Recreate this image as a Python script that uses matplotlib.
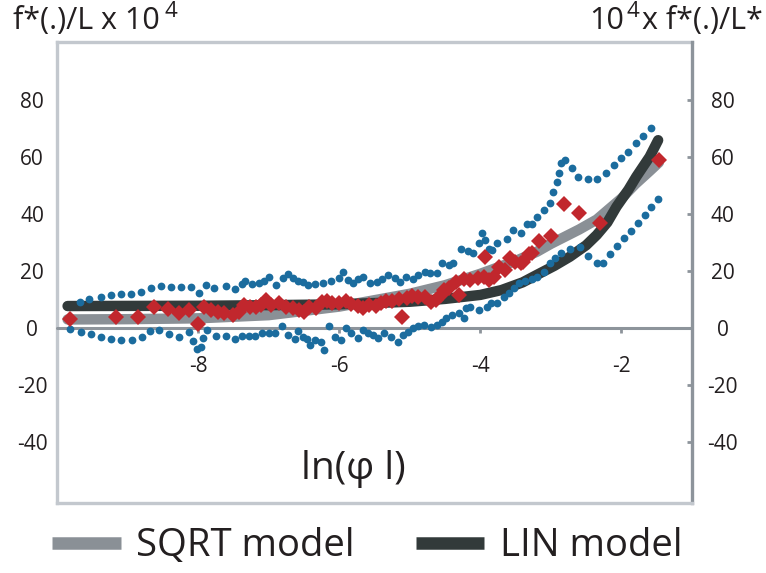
import matplotlib
matplotlib.use("Agg")
import matplotlib.pyplot as plt

plt.rcParams["font.family"] = ["Open Sans", "DejaVu Sans"]
plt.rcParams["axes.unicode_minus"] = False

# upper band (blue dots)
upper_x = [-9.68, -9.54, -9.38, -9.24, -9.09, -8.95, -8.81, -8.67, -8.53, -8.38, -8.24, -8.10,
           -7.99, -7.89, -7.77, -7.61, -7.48, -7.38, -7.33, -7.23, -7.14, -7.07, -7.00, -6.89,
           -6.80, -6.73, -6.66, -6.59, -6.52, -6.44, -6.34, -6.23, -6.11, -6.01, -5.94, -5.87,
           -5.80, -5.73, -5.66, -5.56, -5.47, -5.40, -5.31, -5.21, -5.14, -5.05, -4.96, -4.89,
           -4.79, -4.72, -4.61, -4.54, -4.44, -4.39, -4.28, -4.18, -4.11, -4.02, -3.98, -3.93,
           -3.88, -3.83, -3.76, -3.62, -3.53, -3.43, -3.34, -3.27, -3.20, -3.10, -3.01, -2.97,
           -2.92, -2.89, -2.86, -2.80, -2.70, -2.61, -2.48, -2.35, -2.22, -2.11, -2.00, -1.91,
           -1.80, -1.69, -1.58]
upper_y = [9.2, 10.2, 11.0, 11.6, 11.9, 11.9, 12.5, 14.1, 14.7, 14.2, 14.3, 14.2,
           12.2, 15.1, 13.9, 14.7, 13.6, 15.4, 16.6, 15.4, 15.9, 16.6, 17.8, 15.1,
           17.4, 18.9, 17.4, 16.6, 16.0, 15.1, 15.4, 15.9, 16.6, 17.4, 19.7, 16.8,
           15.6, 17.0, 17.7, 15.6, 16.2, 17.0, 18.5, 17.4, 16.2, 17.7, 17.0, 18.5,
           19.7, 19.4, 19.4, 22.7, 22.1, 22.7, 27.6, 27.1, 26.2, 29.7, 33.3, 30.8,
           27.6, 27.3, 29.9, 31.1, 34.3, 33.3, 36.3, 36.6, 39.0, 41.3, 43.9, 47.7,
           51.2, 54.4, 57.9, 58.8, 55.9, 52.8, 52.2, 52.2, 54.4, 57.1, 59.4, 61.7,
           64.7, 67.3, 69.9]

# lower band (blue dots)
lower_x = [-9.82, -9.66, -9.52, -9.37, -9.23, -9.09, -8.94, -8.80, -8.68, -8.55, -8.41, -8.27,
           -8.13, -8.07, -8.01, -7.96, -7.93, -7.87, -7.75, -7.61, -7.48, -7.38, -7.28, -7.19,
           -7.09, -7.00, -6.91, -6.81, -6.72, -6.62, -6.58, -6.51, -6.46, -6.41, -6.34, -6.26,
           -6.22, -6.15, -6.06, -5.97, -5.90, -5.83, -5.73, -5.66, -5.59, -5.52, -5.45, -5.36,
           -5.26, -5.17, -5.10, -5.03, -4.96, -4.89, -4.80, -4.70, -4.62, -4.54, -4.49, -4.40,
           -4.30, -4.23, -4.21, -4.14, -4.02, -3.90, -3.85, -3.76, -3.67, -3.60, -3.52, -3.45,
           -3.36, -3.27, -3.19, -3.10, -3.01, -2.94, -2.85, -2.73, -2.59, -2.47, -2.35, -2.26,
           -2.16, -2.07, -1.97, -1.87, -1.76, -1.67, -1.58, -1.48]
lower_y = [-0.5, -1.3, -2.1, -3.0, -3.9, -4.2, -4.2, -3.0, -0.9, -0.7, -2.1, -3.0,
           -1.3, -4.4, -7.5, -6.8, -3.6, -0.7, -2.8, -2.8, -4.0, -2.8, -2.8, -2.8,
           -1.6, -1.9, -1.9, 0.7, -2.5, -4.0, -0.9, -3.0, -4.0, -6.0, -4.2, -4.8,
           -7.7, 0.8, -3.3, -4.2, -0.1, -1.9, -3.6, -0.7, -1.9, -2.5, -3.6, -1.9,
           -3.0, -4.8, -2.5, -1.3, -0.1, 0.7, 1.1, 0.3, 0.9, 2.2, 3.4, 4.6,
           5.1, 3.4, 6.9, 7.5, 6.3, 7.5, 8.9, 8.6, 11.0, 12.2, 13.9, 15.6,
           16.5, 17.2, 18.0, 19.7, 22.7, 24.4, 26.2, 27.6, 28.5, 25.2, 22.7, 22.9,
           25.9, 28.7, 31.4, 34.1, 36.9, 39.6, 42.5, 45.1]

# observed values (red diamonds)
obs_x = [-9.82, -9.17, -8.85, -8.62, -8.43, -8.27, -8.13, -8.00, -7.91, -7.82, -7.72, -7.63,
         -7.51, -7.42, -7.35, -7.27, -7.18, -7.11, -7.04, -6.97, -6.85, -6.76, -6.66, -6.57,
         -6.50, -6.43, -6.33, -6.24, -6.17, -6.10, -6.00, -5.91, -5.84, -5.74, -5.67, -5.58,
         -5.48, -5.41, -5.34, -5.25, -5.15, -5.11, -5.04, -4.97, -4.88, -4.79, -4.70, -4.63,
         -4.56, -4.51, -4.44, -4.35, -4.30, -4.23, -4.14, -4.04, -3.95, -3.93, -3.88, -3.81,
         -3.74, -3.65, -3.58, -3.51, -3.43, -3.39, -3.31, -3.27, -3.17, -3.00, -2.82, -2.60,
         -2.30, -1.47]
obs_y = [3.0, 4.0, 3.7, 7.3, 6.6, 5.4, 6.3, 1.5, 7.5, 6.3, 5.7, 5.2,
         4.6, 5.7, 8.1, 7.5, 7.5, 8.1, 9.8, 8.1, 8.6, 7.5, 6.9, 6.3,
         5.7, 7.5, 6.9, 9.2, 9.5, 8.8, 8.6, 9.6, 8.4, 7.6, 7.0, 8.2,
         7.6, 8.8, 9.4, 9.5, 10.1, 4.0, 10.6, 11.2, 10.8, 11.0, 9.2, 9.8,
         11.6, 13.3, 13.9, 16.2, 11.6, 17.0, 16.8, 17.4, 18.0, 25.0, 16.8, 18.0,
         21.5, 20.3, 24.4, 23.2, 22.7, 23.2, 25.9, 26.2, 30.6, 32.2, 43.3, 40.2,
         36.9, 58.8]

# model curves
sqrt_x = [-9.85, -9.0, -8.0, -7.0, -6.0, -5.0, -4.5, -4.0, -3.5, -3.2, -3.0, -2.6,
          -2.35, -2.0, -1.8, -1.6, -1.47]
sqrt_y = [3.0, 3.1, 3.4, 4.5, 7.5, 12.0, 15.0, 19.0, 23.5, 26.7, 29.5, 34.5,
          38.0, 45.4, 50.5, 55.0, 58.0]
lin_x = [-9.85, -8.0, -7.0, -6.0, -5.0, -4.5, -4.0, -3.7, -3.4, -3.2, -2.95, -2.73,
         -2.5, -2.35, -2.2, -2.07, -1.9, -1.79, -1.6, -1.48]
lin_y = [7.7, 7.8, 8.0, 8.3, 9.2, 10.2, 11.6, 13.3, 16.0, 18.6, 21.8, 25.0,
         29.0, 32.6, 37.0, 42.5, 48.5, 53.0, 60.0, 65.8]

x_ticks = [-8, -6, -4, -2]
y_ticks = [-40, -20, 0, 20, 40, 60, 80]

light = "#c3c8ce"
mid = "#8d949b"
ink = "#231f20"

fig = plt.figure(figsize=(7.66, 5.73), dpi=100)
ax = fig.add_axes([57 / 766, 1 - 503 / 573, 635 / 766, 461 / 573])
ax.set_xlim(-10, -1)
ax.set_ylim(-61.3, 100.2)

ax.plot(sqrt_x, sqrt_y, color="#8a9096", lw=7.5, solid_capstyle="round", zorder=2, label="SQRT model")
ax.plot(lin_x, lin_y, color="#323a3a", lw=7.5, solid_capstyle="round", zorder=3, label="LIN model")
ax.plot(upper_x, upper_y, "o", color="#1b6c9e", ms=5.6, mew=0, zorder=4)
ax.plot(lower_x, lower_y, "o", color="#1b6c9e", ms=5.6, mew=0, zorder=4)
ax.plot(obs_x, obs_y, "D", color="#c1272d", ms=8.6, mew=0, zorder=5)

# x axis through zero
ax.spines["bottom"].set_position(("data", 0))
ax.spines["bottom"].set_color(mid)
ax.spines["bottom"].set_linewidth(2.2)
ax.spines["bottom"].set_capstyle("round")
ax.spines["left"].set_color(light)
ax.spines["left"].set_linewidth(2.4)
ax.spines["top"].set_color(light)
ax.spines["top"].set_linewidth(2.4)
ax.spines["right"].set_visible(False)
ax.set_xticks(x_ticks)
ax.set_xticklabels([str(v) for v in x_ticks])
ax.tick_params(axis="x", direction="out", length=3.5, width=2, color=mid, pad=17,
               labelsize=15, labelcolor=ink)
ax.set_yticks(y_ticks)
ax.set_yticklabels([str(v) for v in y_ticks])
ax.tick_params(axis="y", length=0, pad=18, labelsize=15, labelcolor=ink)
for lab in ax.get_yticklabels():
    lab.set_horizontalalignment("center")

ax2 = ax.twinx()
ax2.set_ylim(ax.get_ylim())
ax2.set_yticks(y_ticks)
ax2.set_yticklabels([str(v) for v in y_ticks])
ax2.tick_params(axis="y", direction="in", length=3.5, width=2, color=mid, pad=22,
                labelsize=15, labelcolor=ink)
for lab in ax2.get_yticklabels():
    lab.set_horizontalalignment("center")
ax2.spines["right"].set_color(mid)
ax2.spines["right"].set_linewidth(2.4)
ax2.spines["bottom"].set_color(light)
ax2.spines["bottom"].set_linewidth(2.4)
ax2.spines["left"].set_visible(False)
ax2.spines["top"].set_visible(False)

ax.text(0.466, 0.073, "ln(φ l)", transform=ax.transAxes, ha="center", va="center",
        fontsize=28, color=ink)

# axis titles with a raised 4
fig.canvas.draw()
r = fig.canvas.get_renderer()
base = 1 - 29 / 573
t1 = fig.text(13 / 766, base, "f*(.)/L x 10", fontsize=22, color=ink, va="baseline")
e1 = t1.get_window_extent(renderer=r)
fig.text((e1.x1 + 5) / 766, base + 12 / 573, "4", fontsize=16, color=ink, va="baseline")

t2 = fig.text(763 / 766, base, "x f*(.)/L*", fontsize=22, color=ink, va="baseline", ha="right")
e2 = t2.get_window_extent(renderer=r)
t3 = fig.text((e2.x0 - 3) / 766, base + 12 / 573, "4", fontsize=16, color=ink, va="baseline", ha="right")
e3 = t3.get_window_extent(renderer=r)
fig.text((e3.x0 - 2) / 766, base, "10", fontsize=22, color=ink, va="baseline", ha="right")

leg = fig.legend(loc="center left", bbox_to_anchor=(52 / 766, 27 / 573), ncol=2, frameon=False,
                 fontsize=27.5, handlelength=1.8, handletextpad=0.4, columnspacing=1.6,
                 borderpad=0, borderaxespad=0, labelcolor=ink)
for h in leg.get_lines():
    h.set_linewidth(9)
    h.set_solid_capstyle("butt")

fig.savefig("out.png", dpi=100)
